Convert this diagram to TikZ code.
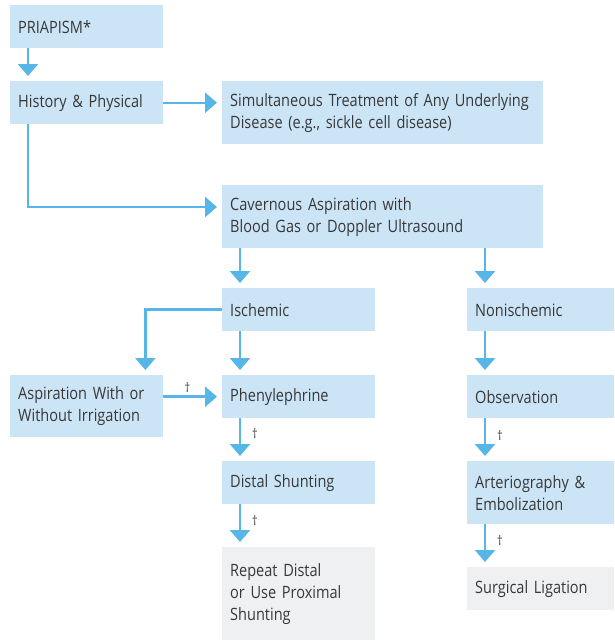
\documentclass[tikz,border=0pt]{standalone}
\usepackage{fontspec}
\setmainfont[FakeStretch=0.855]{Open Sans}
\usetikzlibrary{arrows.meta}
\definecolor{boxblue}{HTML}{CCE5F6}
\definecolor{boxgray}{HTML}{EEF0F2}
\definecolor{flow}{HTML}{55B6E7}
\definecolor{ink}{HTML}{383838}
\begin{document}
\begin{tikzpicture}[x=1pt,y=-1pt,
  box/.style={anchor=north west, fill=boxblue, inner xsep=8pt, inner ysep=0pt,
    align=left, text=ink, font=\fontsize{17}{22}\selectfont,
    execute at begin node={\hyphenpenalty=10000}},
  endbox/.style={box, fill=boxgray},
  flowarrow/.style={draw=flow, line width=2.6pt,
    -{Triangle[width=20pt,length=12pt]}, shorten >=5pt},
  dag/.style={text=ink, font=\fontsize{13}{13}\selectfont, inner sep=0pt}]
\useasboundingbox (0,0) rectangle (614,640);

% boxes: width w, height h -> text width w-16
\node[box, text width=137pt, minimum height=43pt] (pri)  at (10,5)   {PRIAPISM*};
\node[box, text width=137pt, minimum height=43pt] (hp)   at (10,81)  {History \& Physical};
\node[box, text width=305pt, minimum height=63pt] (sim)  at (222,81) {Simultaneous Treatment of Any Underlying\\Disease (e.g., sickle cell disease)};
\node[box, text width=305pt, minimum height=63pt] (cav)  at (222,185) {Cavernous Aspiration with\\Blood Gas or Doppler Ultrasound};
\node[box, text width=137pt, minimum height=43pt] (isch) at (222,288) {Ischemic};
\node[box, text width=131pt, minimum height=43pt] (non)  at (467,288) {Nonischemic};
\node[box, text width=137pt, minimum height=62pt] (asp)  at (10,375) {Aspiration With or\\Without Irrigation};
\node[box, text width=137pt, minimum height=43pt] (phen) at (222,375) {Phenylephrine};
\node[box, text width=137pt, minimum height=43pt] (dist) at (222,461) {Distal Shunting};
\node[endbox, text width=137pt, minimum height=93pt] (rep) at (222,547) {Repeat Distal\\or Use Proximal\\Shunting};
\node[box, text width=131pt, minimum height=43pt] (obs)  at (467,375) {Observation};
\node[box, text width=131pt, minimum height=63pt] (art)  at (467,461) {Arteriography \&\\Embolization};
\node[endbox, text width=131pt, minimum height=43pt] (surg) at (467,567) {Surgical Ligation};

% connectors
\draw[flowarrow] ([xshift=18pt]pri.south west) -- ([xshift=18pt]hp.north west);
\draw[flowarrow, line width=2.2pt] (hp.east) -- (hp.east -| sim.west);
\draw[flowarrow] ([xshift=18pt]hp.south west) |- ([yshift=-22pt]cav.north west);
\draw[flowarrow] ([xshift=18pt]cav.south west) -- ([xshift=18pt]isch.north west);
\draw[flowarrow] ([xshift=18pt]cav.south west -| non.west) -- ([xshift=18pt]non.north west);
\draw[flowarrow] (isch.west) -| ([xshift=-18pt]asp.north east);
\draw[flowarrow] ([xshift=18pt]isch.south west) -- ([xshift=18pt]phen.north west);
\draw[flowarrow] (phen.west -| asp.east) -- (phen.west);
\draw[flowarrow] ([xshift=18pt]phen.south west) -- ([xshift=18pt]dist.north west);
\draw[flowarrow] ([xshift=18pt]dist.south west) -- ([xshift=18pt]rep.north west);
\draw[flowarrow] ([xshift=18pt]non.south west) -- ([xshift=18pt]obs.north west);
\draw[flowarrow] ([xshift=18pt]obs.south west) -- ([xshift=18pt]art.north west);
\draw[flowarrow] ([xshift=18pt]art.south west) -- ([xshift=18pt]surg.north west);

% dagger marks
\node[dag] (d1) at ([xshift=24pt,yshift=-13pt]asp.north east) {†};
\node[dag] (d2) at ([xshift=33pt,yshift=-15pt]phen.south west) {†};
\node[dag] (d3) at ([xshift=33pt,yshift=-16pt]dist.south west) {†};
\node[dag] (d4) at ([xshift=33pt,yshift=-17pt]obs.south west) {†};
\node[dag] (d5) at ([xshift=33pt,yshift=-16pt]art.south west) {†};
\end{tikzpicture}
\end{document}
